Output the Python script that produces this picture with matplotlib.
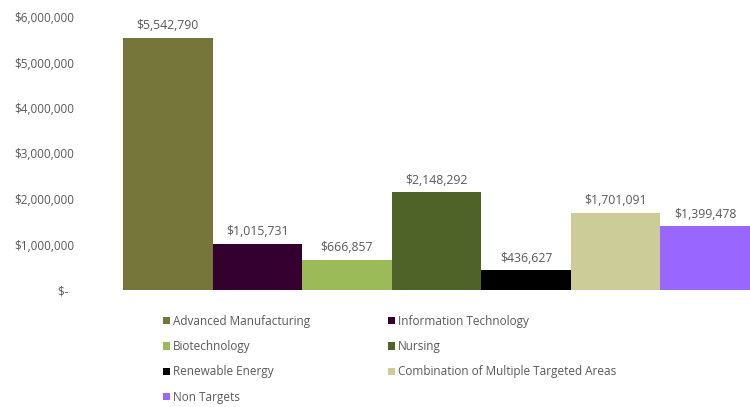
import numpy as np
import matplotlib.pyplot as plt
from matplotlib.ticker import FuncFormatter

# funding by targeted area
areas = ['Advanced Manufacturing', 'Information Technology', 'Biotechnology',
         'Nursing', 'Renewable Energy', 'Combination of Multiple Targeted Areas',
         'Non Targets']
amounts = [5542790, 1015731, 666857, 2148292, 436627, 1701091, 1399478]
colors = ['#76763b', '#33002f', '#9bbb59', '#4f6228', '#000000', '#cccc99', '#9966ff']

plt.rcParams['font.family'] = ['Open Sans', 'DejaVu Sans']
grey = '#595959'

fig = plt.figure(figsize=(7.5, 4.07), dpi=100)
ax = fig.add_axes([123/750, (407-290)/407, 627/750, 273/407])

x = np.arange(len(areas))
handles = []
for i in range(len(areas)):
    b = ax.bar(x[i], amounts[i], width=1.0, color=colors[i], label=areas[i])
    ax.bar_label(b, labels=['${:,}'.format(amounts[i])], padding=4,
                 fontsize=8.8, color=grey)
    handles.append(b)

ax.set_xlim(-0.5, len(areas) - 0.5)
ax.set_ylim(0, 6000000)
ax.set_yticks(np.arange(0, 6000001, 1000000))

def money(v, pos):
    if v == 0:
        return '$-  '
    return '${:,.0f}'.format(v)

ax.yaxis.set_major_formatter(FuncFormatter(money))
ax.tick_params(axis='y', length=0, pad=35, labelsize=8.5, labelcolor=grey)
ax.tick_params(axis='x', bottom=False, labelbottom=False)
for s in ax.spines.values():
    s.set_visible(False)

# row-wise order for a 2 column legend
order = [0, 2, 4, 6, 1, 3, 5]
leg = fig.legend([handles[i] for i in order], [areas[i] for i in order],
                 ncol=2, loc='upper left', bbox_to_anchor=(152/750, 1 - 304/407),
                 frameon=False, fontsize=8.5, labelcolor=grey,
                 handlelength=0.6, handleheight=0.6, handletextpad=0.3,
                 columnspacing=6.55, labelspacing=1.05)

fig.savefig('out.png', dpi=100)
